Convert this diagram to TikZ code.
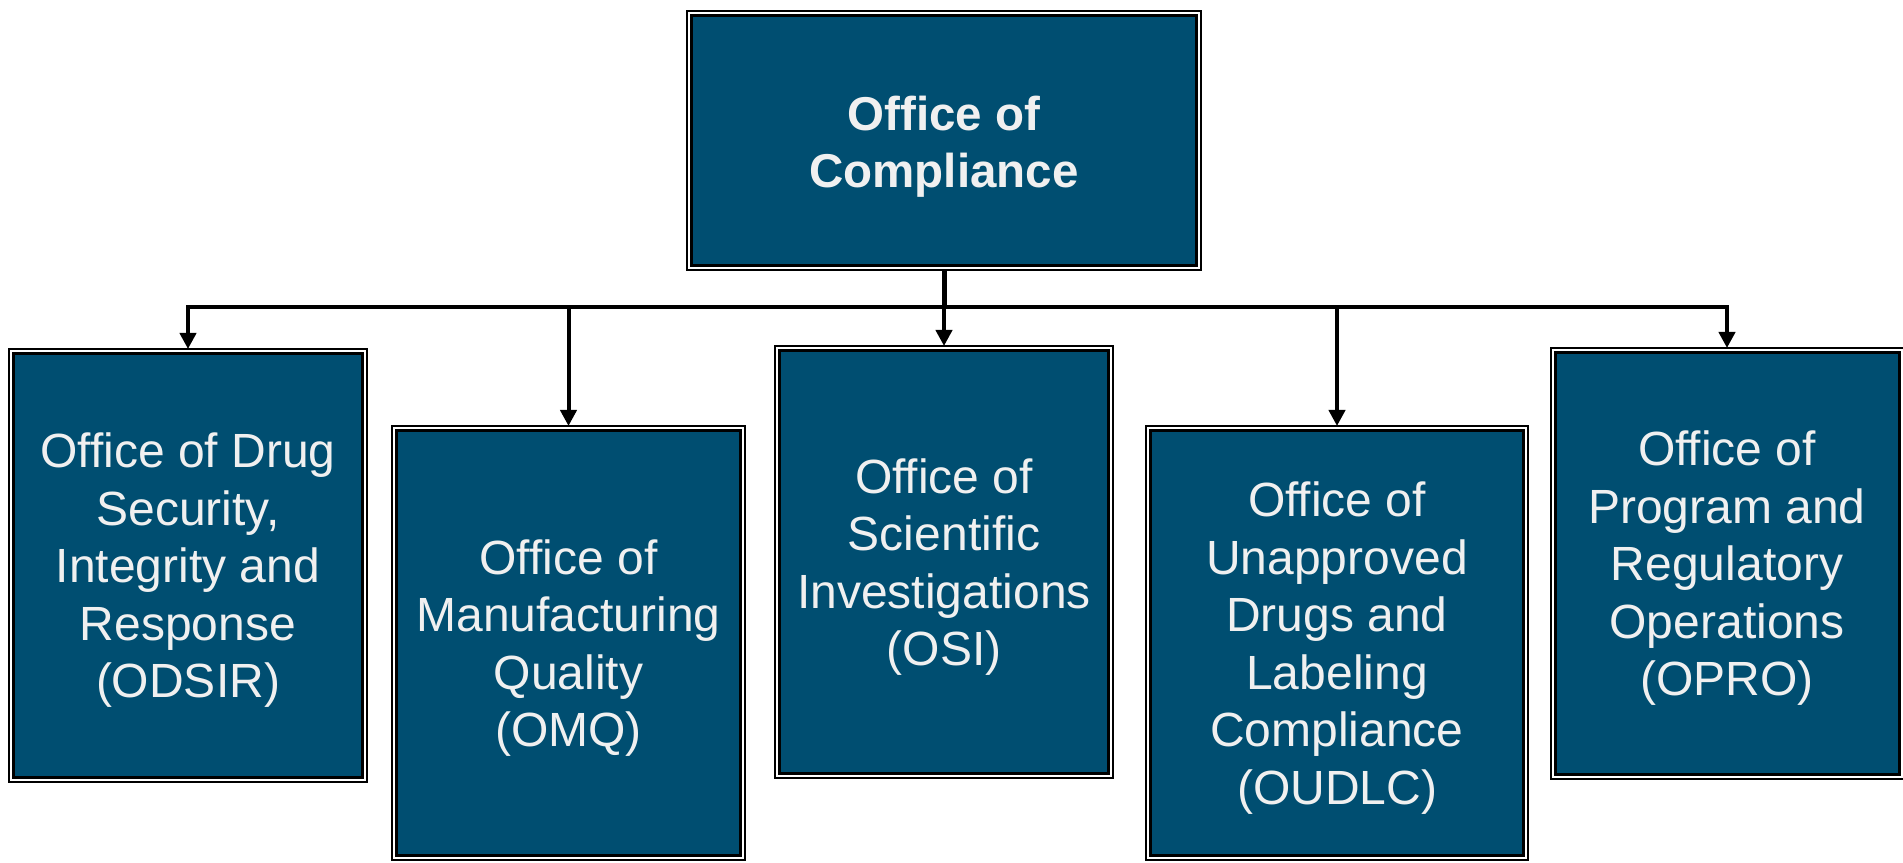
\documentclass[tikz,border=0pt]{standalone}
\usepackage{fontspec}
\setmainfont{Liberation Sans}
\usetikzlibrary{arrows.meta}
\definecolor{boxblue}{RGB}{0,78,113}
\definecolor{txt}{RGB}{240,240,240}
\tikzset{
  orgbox/.style={draw=black, line width=2pt, fill=boxblue,
    inner sep=0pt, outer sep=0pt,
    path picture={
      \draw[white,line width=2pt]
        ([shift={(2pt,-2pt)}]path picture bounding box.north west) rectangle
        ([shift={(-2pt,2pt)}]path picture bounding box.south east);
      \draw[black,line width=3pt]
        ([shift={(4.5pt,-4.5pt)}]path picture bounding box.north west) rectangle
        ([shift={(-4.5pt,4.5pt)}]path picture bounding box.south east);
    }},
  boxtext/.style={text=txt, align=center, inner sep=0pt, yshift=-5pt,
    font=\fontsize{48}{57.5}\selectfont},
  toptext/.style={boxtext, yshift=-1pt, font=\bfseries\fontsize{47.5}{57}\selectfont},
  conn/.style={draw=black, line width=4pt},
  arr/.style={conn, -{Triangle[length=16pt,width=16pt]}}
}
\begin{document}
\begin{tikzpicture}[x=1pt,y=1pt]
\useasboundingbox (0,0) rectangle (1903,862);
\node[orgbox, minimum width=514pt, minimum height=259pt] (top) at (944,721) {};
\node[orgbox, minimum width=358pt, minimum height=433pt] (b1) at (188,296.5) {};
\node[orgbox, minimum width=353pt, minimum height=434pt] (b2) at (568.5,219) {};
\node[orgbox, minimum width=338pt, minimum height=432pt] (b3) at (944,300) {};
\node[orgbox, minimum width=382pt, minimum height=434pt] (b4) at (1337,219) {};
\node[orgbox, minimum width=353pt, minimum height=431pt] (b5) at (1727,298.5) {};
\node[toptext] (toplbl) at (top.center) {Office of\\Compliance};
\node[boxtext] (b1lbl) at (b1.center) {Office of Drug\\Security,\\Integrity and\\Response\\(ODSIR)};
\node[boxtext] (b2lbl) at (b2.center) {Office of\\Manufacturing\\Quality\\(OMQ)};
\node[boxtext] (b3lbl) at (b3.center) {Office of\\Scientific\\Investigations\\(OSI)};
\node[boxtext] (b4lbl) at (b4.center) {Office of\\Unapproved\\Drugs and\\Labeling\\Compliance\\(OUDLC)};
\node[boxtext] (b5lbl) at (b5.center) {Office of\\Program and\\Regulatory\\Operations\\(OPRO)};
\coordinate (bus) at (944,555);
\draw[conn, line width=5pt] (top.south) -- (bus);
\foreach \b in {b1,b2,b3,b4,b5}{
  \draw[arr] (top.south |- bus) -| (\b.north);
}
\end{tikzpicture}
\end{document}
